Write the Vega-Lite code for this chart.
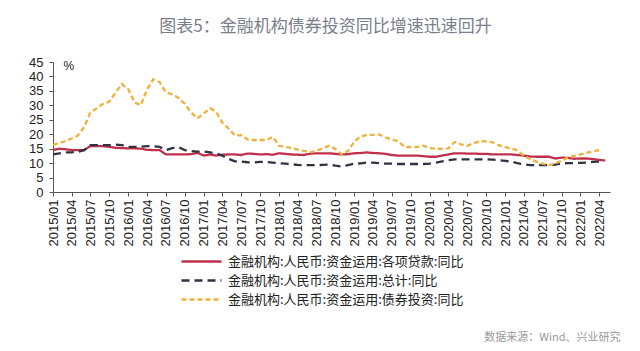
{
"$schema":"https://vega.github.io/schema/vega-lite/v6.json",
"width":557,"height":130,
"autosize":{"type":"none"},
"padding":{"left":53,"top":62,"right":30,"bottom":159},
"background":"white",
"title":{"text":"图表5：金融机构债券投资同比增速迅速回升","anchor":"middle","frame":"group","offset":20,"dx":-6,"fontSize":17,"font":"Noto Sans CJK SC","fontWeight":"normal","color":"#7a808a"},
"data":{"values":[
{"d":"2015-01-01","a":14.5,"b":13.0,"c":16.3},
{"d":"2015-02-01","a":15.0,"b":13.4,"c":17.0},
{"d":"2015-03-01","a":14.8,"b":13.7,"c":17.6},
{"d":"2015-04-01","a":14.5,"b":13.7,"c":18.5},
{"d":"2015-05-01","a":14.5,"b":13.9,"c":19.5},
{"d":"2015-06-01","a":14.5,"b":14.5,"c":22.5},
{"d":"2015-07-01","a":15.9,"b":16.2,"c":27.5},
{"d":"2015-08-01","a":15.9,"b":16.2,"c":29.0},
{"d":"2015-09-01","a":15.9,"b":16.2,"c":30.5},
{"d":"2015-10-01","a":15.6,"b":16.2,"c":31.3},
{"d":"2015-11-01","a":15.3,"b":16.4,"c":34.5},
{"d":"2015-12-01","a":15.2,"b":16.2,"c":37.4},
{"d":"2016-01-01","a":15.1,"b":15.6,"c":35.5},
{"d":"2016-02-01","a":15.1,"b":15.6,"c":31.0},
{"d":"2016-03-01","a":15.0,"b":15.7,"c":30.0},
{"d":"2016-04-01","a":14.6,"b":15.9,"c":35.5},
{"d":"2016-05-01","a":14.5,"b":15.8,"c":39.0},
{"d":"2016-06-01","a":14.5,"b":15.6,"c":38.0},
{"d":"2016-07-01","a":13.0,"b":14.5,"c":34.5},
{"d":"2016-08-01","a":13.0,"b":15.2,"c":33.8},
{"d":"2016-09-01","a":13.0,"b":15.5,"c":32.6},
{"d":"2016-10-01","a":13.0,"b":14.5,"c":30.5},
{"d":"2016-11-01","a":13.1,"b":14.2,"c":27.5},
{"d":"2016-12-01","a":13.6,"b":14.0,"c":25.5},
{"d":"2017-01-01","a":12.6,"b":14.0,"c":27.2},
{"d":"2017-02-01","a":13.0,"b":13.7,"c":29.0},
{"d":"2017-03-01","a":12.6,"b":13.4,"c":27.8},
{"d":"2017-04-01","a":12.9,"b":12.6,"c":24.0},
{"d":"2017-05-01","a":13.0,"b":11.5,"c":22.0},
{"d":"2017-06-01","a":13.0,"b":10.6,"c":19.5},
{"d":"2017-07-01","a":12.8,"b":10.5,"c":19.7},
{"d":"2017-08-01","a":13.3,"b":10.3,"c":18.2},
{"d":"2017-09-01","a":13.2,"b":10.2,"c":18.0},
{"d":"2017-10-01","a":13.0,"b":10.4,"c":18.0},
{"d":"2017-11-01","a":13.1,"b":10.4,"c":18.0},
{"d":"2017-12-01","a":12.9,"b":10.2,"c":19.1},
{"d":"2018-01-01","a":13.4,"b":9.9,"c":16.0},
{"d":"2018-02-01","a":13.2,"b":9.8,"c":15.6},
{"d":"2018-03-01","a":13.0,"b":9.6,"c":15.3},
{"d":"2018-04-01","a":12.9,"b":9.4,"c":14.7},
{"d":"2018-05-01","a":12.8,"b":9.3,"c":14.2},
{"d":"2018-06-01","a":13.3,"b":9.3,"c":13.8},
{"d":"2018-07-01","a":13.4,"b":9.3,"c":14.2},
{"d":"2018-08-01","a":13.4,"b":9.4,"c":15.2},
{"d":"2018-09-01","a":13.4,"b":9.5,"c":16.0},
{"d":"2018-10-01","a":13.2,"b":9.1,"c":14.9},
{"d":"2018-11-01","a":13.0,"b":8.8,"c":13.0},
{"d":"2018-12-01","a":13.1,"b":9.3,"c":14.2},
{"d":"2019-01-01","a":13.4,"b":9.8,"c":17.5},
{"d":"2019-02-01","a":13.5,"b":9.9,"c":19.3},
{"d":"2019-03-01","a":13.7,"b":10.2,"c":19.7},
{"d":"2019-04-01","a":13.5,"b":10.2,"c":19.8},
{"d":"2019-05-01","a":13.4,"b":10.0,"c":19.9},
{"d":"2019-06-01","a":13.2,"b":9.8,"c":18.9},
{"d":"2019-07-01","a":12.8,"b":9.8,"c":18.2},
{"d":"2019-08-01","a":12.6,"b":9.7,"c":17.6},
{"d":"2019-09-01","a":12.6,"b":9.7,"c":15.6},
{"d":"2019-10-01","a":12.6,"b":9.7,"c":15.5},
{"d":"2019-11-01","a":12.6,"b":9.7,"c":15.6},
{"d":"2019-12-01","a":12.4,"b":9.7,"c":16.0},
{"d":"2020-01-01","a":12.2,"b":9.8,"c":15.2},
{"d":"2020-02-01","a":12.2,"b":10.2,"c":15.0},
{"d":"2020-03-01","a":12.6,"b":10.6,"c":14.9},
{"d":"2020-04-01","a":13.0,"b":11.0,"c":15.1},
{"d":"2020-05-01","a":13.4,"b":11.3,"c":17.3},
{"d":"2020-06-01","a":13.4,"b":11.3,"c":16.5},
{"d":"2020-07-01","a":13.3,"b":11.3,"c":16.0},
{"d":"2020-08-01","a":13.3,"b":11.3,"c":16.9},
{"d":"2020-09-01","a":13.2,"b":11.3,"c":17.6},
{"d":"2020-10-01","a":13.2,"b":11.3,"c":17.5},
{"d":"2020-11-01","a":13.0,"b":11.2,"c":17.2},
{"d":"2020-12-01","a":13.0,"b":11.0,"c":16.2},
{"d":"2021-01-01","a":13.0,"b":10.8,"c":15.5},
{"d":"2021-02-01","a":13.0,"b":10.5,"c":15.0},
{"d":"2021-03-01","a":12.8,"b":10.0,"c":14.4},
{"d":"2021-04-01","a":12.6,"b":9.6,"c":12.6},
{"d":"2021-05-01","a":12.3,"b":9.3,"c":11.4},
{"d":"2021-06-01","a":12.2,"b":9.3,"c":10.5},
{"d":"2021-07-01","a":12.2,"b":9.3,"c":9.8},
{"d":"2021-08-01","a":12.2,"b":9.3,"c":9.3},
{"d":"2021-09-01","a":11.6,"b":9.5,"c":9.9},
{"d":"2021-10-01","a":11.9,"b":9.9,"c":10.8},
{"d":"2021-11-01","a":11.8,"b":10.0,"c":11.9},
{"d":"2021-12-01","a":11.5,"b":10.0,"c":12.5},
{"d":"2022-01-01","a":11.6,"b":10.1,"c":13.0},
{"d":"2022-02-01","a":11.6,"b":10.2,"c":13.6},
{"d":"2022-03-01","a":11.4,"b":10.4,"c":14.0},
{"d":"2022-04-01","a":11.1,"b":10.5,"c":14.5},
{"d":"2022-05-01","a":10.9}
]},
"transform":[{"fold":["a","b","c"],"as":["s","v"]}],
"mark":{"type":"line","strokeWidth":2.3},
"encoding":{
"x":{"field":"d","type":"temporal",
 "scale":{"type":"utc","domain":[{"year":2015,"month":1,"date":1,"utc":true},{"year":2022,"month":5,"date":24,"utc":true}]},
 "axis":{"title":"数据来源：Wind、兴业研究","titleFont":"Noto Sans CJK SC","titleFontSize":11,"titleFontWeight":"normal","titleColor":"#9a9a9a","titleAlign":"right","titleAnchor":"end","titleX":567,"titleY":145,"titleBaseline":"middle",
  "format":"%Y/%m","tickCount":{"interval":"month","step":3},"labelAngle":-90,"labelAlign":"right","labelBaseline":"middle","labelFont":"Liberation Sans","labelFontSize":13,"labelColor":"#222","tickSize":4,"labelPadding":3,"domainColor":"#555","tickColor":"#555","grid":false,"labelOverlap":false,"labelFlush":false}},
"y":{"field":"v","type":"quantitative","scale":{"domain":[0,45]},
 "axis":{"title":"%","titleAngle":0,"titleX":10,"titleY":3,"titleAlign":"left","titleBaseline":"middle","titleFontSize":12,"titleFontWeight":"normal","titleFont":"Liberation Sans","titleColor":"#222",
  "values":[0,5,10,15,20,25,30,35,40,45],"labelFont":"Liberation Sans","labelFontSize":13,"labelColor":"#222","tickSize":4,"labelPadding":6,"grid":false,"domainColor":"#555","tickColor":"#555"}},
"color":{"field":"s","type":"nominal","scale":{"domain":["a","b","c"],"range":["#c0304c","#2f3442","#f0b13c"]},
 "legend":{"orient":"none","legendX":127,"legendY":192,"direction":"vertical","title":null,"symbolType":"stroke","symbolSize":1600,"symbolStrokeWidth":2.5,"labelFont":"Noto Sans CJK SC","labelFontSize":13,"labelColor":"#222","rowPadding":4,"clipHeight":15,"labelOffset":5,"labelLimit":0,
  "labelExpr":"datum.label == 'a' ? '金融机构:人民币:资金运用:各项贷款:同比' : datum.label == 'b' ? '金融机构:人民币:资金运用:总计:同比' : '金融机构:人民币:资金运用:债券投资:同比'"}},
"strokeDash":{"field":"s","type":"nominal","scale":{"domain":["a","b","c"],"range":[[1,0],[8,5],[5,3]]},
 "legend":{"orient":"none","legendX":127,"legendY":192,"direction":"vertical","title":null,"symbolType":"stroke","symbolSize":1600,"symbolStrokeWidth":2.5,"labelFont":"Noto Sans CJK SC","labelFontSize":13,"labelColor":"#222","rowPadding":4,"clipHeight":15,"labelOffset":5,"labelLimit":0,
  "labelExpr":"datum.label == 'a' ? '金融机构:人民币:资金运用:各项贷款:同比' : datum.label == 'b' ? '金融机构:人民币:资金运用:总计:同比' : '金融机构:人民币:资金运用:债券投资:同比'"}}
},
"config":{"view":{"stroke":null}}
}
